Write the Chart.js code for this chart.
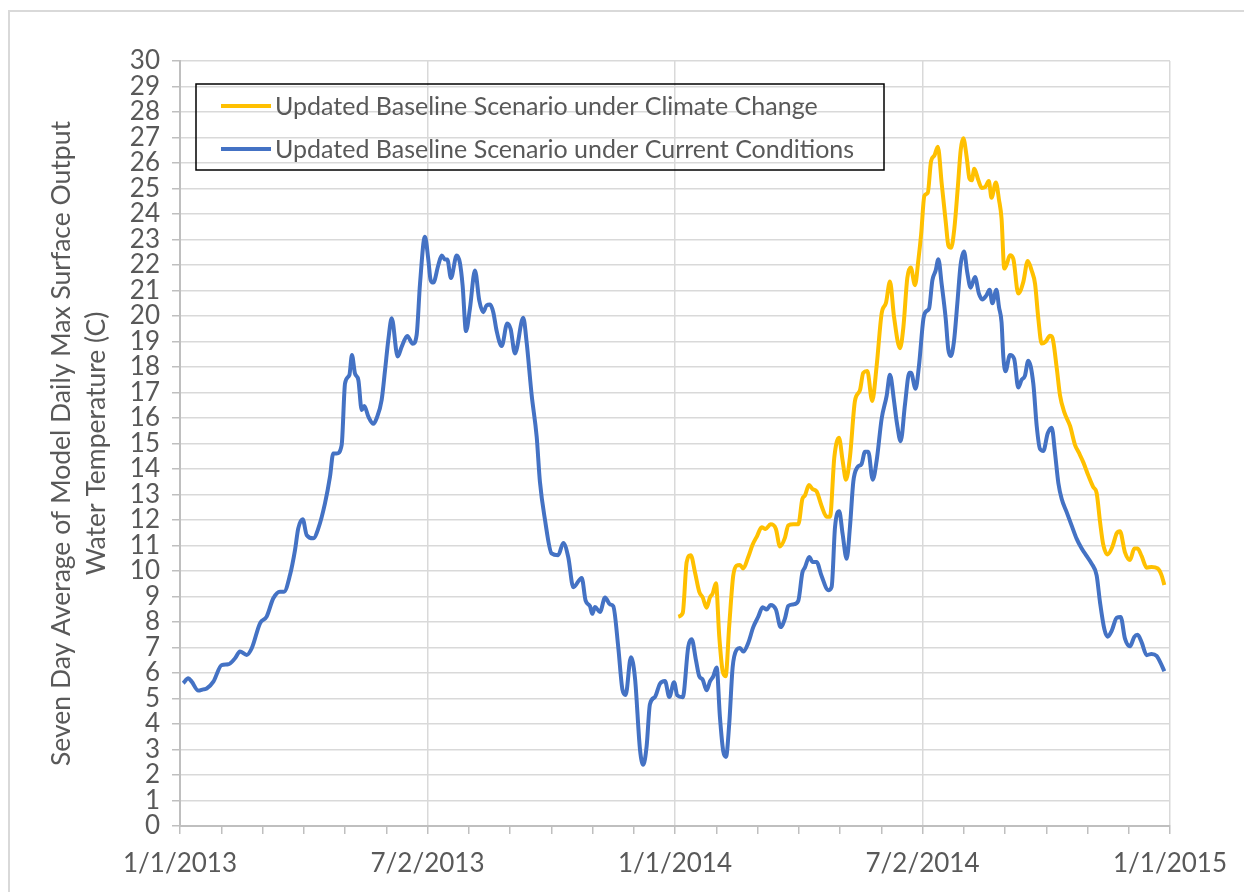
<!DOCTYPE html>
<html>
<head>
<meta charset="utf-8">
<script src="https://cdn.jsdelivr.net/npm/chart.js@4.4.1/dist/chart.umd.min.js"></script>
<style>
  html, body { margin: 0; padding: 0; background: #ffffff; overflow: hidden; }
  #wrap { position: relative; width: 1244px; height: 892px; }
  #frame { position: absolute; left: 8px; top: 10px; width: 1300px; height: 1000px; border: 2px solid #d9d9d9; box-sizing: border-box; pointer-events: none; }
  canvas { position: absolute; left: 0; top: 0; }
</style>
</head>
<body>
<div id="wrap">
  <canvas id="c" width="1244" height="892"></canvas>
  <div id="frame"></div>
</div>
<script>
// ---- Data (days since 1/1/2013, temperature in C) ----
const currentDays = [2.4,6.1,8.6,13.5,17.2,19.7,24.6,30.7,35.6,40.6,44.2,49.2,52.9,59,63.9,68.8,73.7,76.7,81.1,84.8,87.2,90.5,93.4,98.3,102,106.9,110.6,113,115.5,119.2,121.7,124.9,126.8,129,131.5,134,135.9,138.9,142.6,145,148.7,151.2,153.6,156.1,160.5,163.5,167.6,171.6,174.5,177,
  180.6,183.1,184.8,186.8,190.5,193,195.4,197.1,199.8,204,206.4,208.4,210.9,213.8,217.5,220.7,223.6,226.1,228.6,231,233.5,237.2,241.3,243.8,247,253.1,255.6,259.3,263,265.4,269.1,274,278.9,282.6,286.3,290,296.2,299.1,302.3,304,306,309.7,313.4,317.1,319.5,323.2,326.2,328.6,332.5,335.5,339.2,341.6,344.1,346.5,350.2,353.9,357.6,360.8,
  364.3,366.7,370.7,374.8,377.3,380.5,382.9,385.4,388.3,390.8,393.2,395.7,398.1,400.6,402.6,405,407.5,410.4,412.9,415.3,419,422.7,426.4,429.6,432.6,435.5,439.4,442.9,446.1,448.5,452.2,455.9,458.9,460.8,464,466.5,469.4,473.1,478,480.5,483,486.1,488.6,491.6,494,496.5,499.4,502.6,505.1,507.5,510.8,513.7,517.4,521.1,523.5,526.5,528.5,531.4,534.6,537.8,539,542.4,544.9,
  548.2,550.6,552.3,554.8,557.2,559.2,561.6,564.6,566.5,568.3,570.7,573.2,575.6,578.1,580.5,583,586.2,589.1,591.6,594.5,597,599,602,603.9,605.8,607.1,608.7,612,615.1,618.1,620.6,623,625.5,629.2,631.7,634.1,636.6,639.8,642.8,645.2,647.7,650.1,653.8,657.5,661.2,664.9,668.6,672.3,675.9,678.4,681.6,684,687,690.7,693.6,696.8,700.5,703.7,706.1,709.1,712.8,716.4,720.1,723.3,725.8];
const currentTemps = [5.60,5.79,5.66,5.31,5.36,5.39,5.66,6.31,6.34,6.58,6.84,6.71,6.97,7.95,8.21,8.93,9.19,9.19,9.84,10.82,11.67,12.03,11.41,11.28,11.67,12.65,13.70,14.61,14.61,14.94,17.36,17.69,18.47,17.75,17.49,16.31,16.47,16.05,15.77,15.99,16.71,17.88,19.06,19.91,18.41,18.80,19.22,18.91,19.26,21.28,
  23.11,22.22,21.41,21.31,22.0,22.37,22.22,22.22,21.49,22.37,22.08,21.19,19.41,20.30,21.78,20.60,20.15,20.42,20.45,20.15,19.41,18.82,19.71,19.49,18.53,19.93,18.97,16.90,15.27,13.50,12.02,10.69,10.62,11.10,10.54,9.36,9.73,8.84,8.62,8.32,8.59,8.39,8.96,8.69,8.62,6.99,5.36,5.14,6.62,5.80,2.99,2.40,3.14,4.77,5.06,5.58,5.69,5.06,
  5.64,5.12,5.05,7.04,7.32,6.49,5.87,5.74,5.32,5.67,5.87,6.22,4.29,2.92,2.71,4.02,6.22,6.91,6.98,6.84,7.18,7.80,8.21,8.58,8.49,8.67,8.49,7.80,8.14,8.63,8.69,8.83,9.93,10.14,10.55,10.35,10.35,9.80,9.25,9.38,11.72,12.34,11.45,10.48,11.72,13.51,14.06,14.20,14.68,14.68,13.58,14.33,15.98,16.88,17.70,16.67,15.85,15.09,16.54,17.77,17.77,17.15,18.05,
  19.90,20.20,20.28,21.41,21.78,22.23,21.26,19.90,18.70,18.43,19.0,20.50,22.01,22.53,21.71,21.11,21.53,20.88,20.65,20.80,21.03,20.50,21.03,20.35,19.75,18.40,17.83,18.47,18.32,17.20,17.50,17.65,18.25,17.35,15.69,14.79,14.71,15.39,15.62,14.64,13.44,12.83,12.31,11.78,11.26,10.88,10.58,10.28,9.83,8.77,7.72,7.42,7.65,8.17,8.20,7.35,7.05,7.42,7.50,7.20,6.70,6.75,6.67,6.37,6.07];

const climateDays = [367.4,370.7,373.6,376.6,379.8,382.9,385.4,388.3,390.8,392.7,395.2,397.6,400.1,402.3,405,407.9,410.4,412.9,415.3,419,422.2,425.6,428.9,431.8,435.5,439.4,442.4,446.1,448.5,452.2,455.9,458.9,460.8,463.8,466.5,469.4,473.1,476.8,479.3,482.5,485.9,488.6,491.1,494,497.7,501.4,503.8,506.8,510.4,513.7,517.4,520.6,523.5,526.5,530.9,533.4,536.3,538.8,542,544.4,
  546.5,548.9,551.4,553.8,556.3,558.8,561.7,564.7,566.6,568.6,571,573.5,575.7,577.6,580.1,582.1,583.8,585.7,588.7,591.2,593.6,596.4,598.4,601.6,603.9,605.8,607.8,609.5,612,614.5,618.1,621.8,625.1,628,630.5,632.9,635.4,638.4,641.5,643.3,646.5,648.9,652.1,656.3,660,662.9,666.1,669.8,673.4,675.9,678.4,680.8,684,687.5,690.7,693.1,696.8,700.5,703.7,706.1,709.1,712.8,716.4,720.9,723.8,725.8];
const climateTemps = [8.21,8.35,10.35,10.62,9.93,9.18,8.97,8.56,8.97,9.11,9.52,7.46,6.08,5.87,7.87,9.80,10.21,10.24,10.10,10.55,11.03,11.38,11.72,11.65,11.83,11.65,10.96,11.31,11.79,11.83,11.83,12.82,12.96,13.37,13.21,13.12,12.55,12.13,12.13,14.47,15.23,14.33,13.58,14.47,16.67,17.09,17.77,17.84,16.67,18.05,20.11,20.52,21.35,19.97,18.74,19.56,21.49,21.90,21.21,22.17,
  23.21,24.71,24.83,26.07,26.29,26.64,25.17,23.66,22.76,22.68,23.44,25.02,26.52,26.97,26.22,25.39,25.32,25.77,25.32,25.02,25.05,25.29,24.64,25.24,24.56,23.81,21.86,22.01,22.38,22.23,20.88,21.33,22.16,21.78,21.26,19.90,18.92,19.0,19.23,19.15,17.95,16.89,16.22,15.69,14.94,14.63,14.26,13.74,13.29,13.06,11.93,11.03,10.65,10.95,11.48,11.56,10.73,10.43,10.88,10.88,10.58,10.13,10.16,10.10,9.83,9.45];

const seriesLabels = ['Updated Baseline Scenario under Climate Change', 'Updated Baseline Scenario under Current Conditions'];
const xTickLabels = ['1/1/2013', '7/2/2013', '1/1/2014', '7/2/2014', '1/1/2015'];
const yTitle = ['Seven Day Average of Model Daily Max Surface Output', 'Water Temperature (C)'];

// ---- Chart ----
const FONT = 'Lato, "Open Sans", "Liberation Sans", sans-serif';
const TEXT = '#595959';
const X_MAX = 730;
const MINOR_PER_MAJOR = 6;
const N_MINOR = (xTickLabels.length - 1) * MINOR_PER_MAJOR;

const toPts = (xs, ys) => xs.map((x, i) => ({ x: x, y: ys[i] }));

const legendBox = {
  id: 'legendBox',
  afterDraw(chart) {
    const ctx = chart.ctx;
    const ds = chart.data.datasets;
    ctx.save();
    ctx.lineWidth = 1.5;
    ctx.strokeStyle = '#000000';
    ctx.strokeRect(196, 84, 688, 86);
    ds.forEach((d, i) => {
      const y = 106 + i * 43;
      ctx.strokeStyle = d.borderColor;
      ctx.lineWidth = 4;
      ctx.beginPath();
      ctx.moveTo(221, y);
      ctx.lineTo(271, y);
      ctx.stroke();
      ctx.fillStyle = TEXT;
      ctx.font = '25px ' + FONT;
      ctx.textAlign = 'left';
      ctx.textBaseline = 'middle';
      ctx.fillText(d.label, 275, y + 1);
    });
    ctx.restore();
  }
};

new Chart(document.getElementById('c'), {
  type: 'line',
  data: {
    datasets: [
      { label: seriesLabels[0], data: toPts(climateDays, climateTemps), borderColor: '#FFC000', backgroundColor: '#FFC000', borderWidth: 4, pointRadius: 0, cubicInterpolationMode: 'monotone', fill: false },
      { label: seriesLabels[1], data: toPts(currentDays, currentTemps), borderColor: '#4472C4', backgroundColor: '#4472C4', borderWidth: 4, pointRadius: 0, cubicInterpolationMode: 'monotone', fill: false }
    ]
  },
  options: {
    responsive: false,
    devicePixelRatio: 1,
    animation: false,
    layout: { padding: { top: 61, right: 74, bottom: 0, left: 0 } },
    plugins: { legend: { display: false }, tooltip: { enabled: false } },
    scales: {
      x: {
        type: 'linear', min: 0, max: X_MAX,
        afterBuildTicks: (s) => {
          const t = [];
          for (let i = 0; i <= N_MINOR; i++) t.push({ value: i * X_MAX / N_MINOR });
          s.ticks = t;
        },
        afterFit: (s) => { s.height = 66; },
        ticks: {
          autoSkip: false, maxRotation: 0, minRotation: 0, padding: 14,
          color: TEXT, font: { family: FONT, size: 26 },
          callback: (v, i) => (i % MINOR_PER_MAJOR === 0 ? xTickLabels[i / MINOR_PER_MAJOR] : '')
        },
        grid: {
          color: (c) => (c.index % MINOR_PER_MAJOR === 0 ? '#d9d9d9' : 'rgba(0,0,0,0)'),
          lineWidth: 1.5, tickColor: '#bfbfbf', tickLength: 8
        },
        border: { display: true, color: '#bfbfbf', width: 2 }
      },
      y: {
        min: 0, max: 30,
        afterFit: (s) => { s.width = 180; },
        ticks: { stepSize: 1, autoSkip: false, padding: 12, color: TEXT, font: { family: FONT, size: 26 } },
        grid: { color: '#d9d9d9', lineWidth: 1.5, tickColor: '#bfbfbf', tickLength: 8 },
        border: { display: true, color: '#bfbfbf', width: 2 },
        title: { display: true, text: yTitle, color: TEXT, font: { family: FONT, size: 26.5, lineHeight: 1.32 }, padding: { top: 44, bottom: 0 } }
      }
    }
  },
  plugins: [legendBox]
});
</script>
</body>
</html>
